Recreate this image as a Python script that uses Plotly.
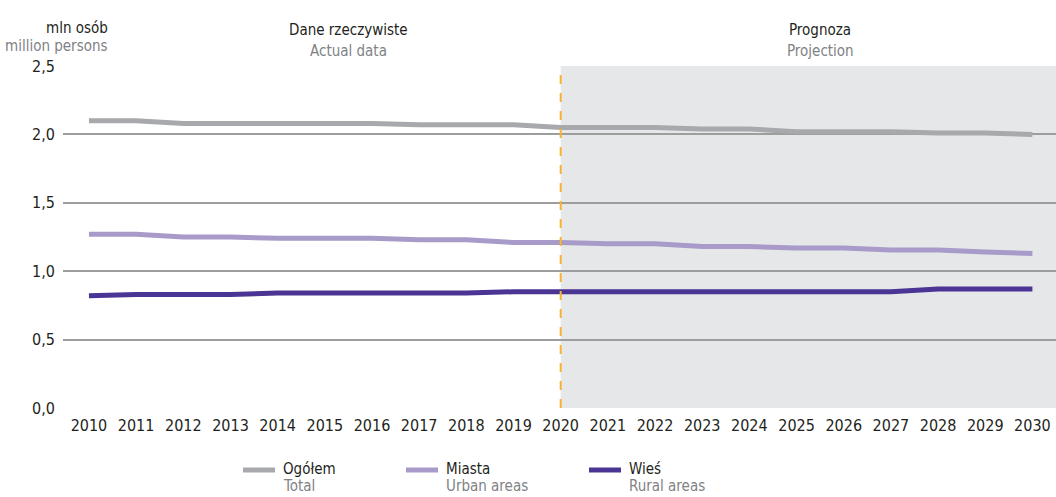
import plotly.graph_objects as go

years = list(range(2010, 2031))
total = [2.10, 2.10, 2.08, 2.08, 2.08, 2.08, 2.08, 2.07, 2.07, 2.07, 2.05,
         2.05, 2.05, 2.04, 2.04, 2.02, 2.02, 2.02, 2.01, 2.01, 2.00]
urban = [1.27, 1.27, 1.25, 1.25, 1.24, 1.24, 1.24, 1.23, 1.23, 1.21, 1.21,
         1.20, 1.20, 1.18, 1.18, 1.17, 1.17, 1.155, 1.155, 1.14, 1.13]
rural = [0.82, 0.83, 0.83, 0.83, 0.84, 0.84, 0.84, 0.84, 0.84, 0.85, 0.85,
         0.85, 0.85, 0.85, 0.85, 0.85, 0.85, 0.85, 0.87, 0.87, 0.87]
y_ticks = [0.0, 0.5, 1.0, 1.5, 2.0, 2.5]
series_pl = ["Ogółem", "Miasta", "Wieś"]
series_en = ["Total", "Urban areas", "Rural areas"]
colors = ["#a7a9ac", "#a89bca", "#4a3494"]
projection_start = 2020

FONT = "DejaVu Sans Condensed, Roboto, sans-serif"
DARK = "#231f20"
GREY = "#808285"
FS = 16
FA = 15

fig = go.Figure()
for vals, name, col in zip([total, urban, rural], series_pl, colors):
    fig.add_trace(go.Scatter(x=years, y=vals, mode="lines", name=name,
                             line=dict(color=col, width=5), showlegend=False,
                             hoverinfo="x+y"))

# projection shading and divider
fig.add_shape(type="rect", xref="x", yref="y", x0=projection_start, x1=2030.5,
              y0=0, y1=2.5, fillcolor="#e6e7e8", line=dict(width=0), layer="below")
fig.add_shape(type="line", xref="x", yref="y", x0=projection_start, x1=projection_start,
              y0=0, y1=2.5, line=dict(color="#f7b334", width=2, dash="dash"))

# plot area geometry (pixels) for paper-coordinate conversion
L, R, T, B = 63, 1056, 66, 408
def px(p):
    return (p - L) / (R - L)
def py(q):
    return (B - q) / (B - T)

# headers
ann = [
    ("mln osób", 110, 28, DARK, "right"),
    ("million persons", 110, 46, GREY, "right"),
    ("Dane rzeczywiste", 348, 30, DARK, "center"),
    ("Actual data", 348, 51, GREY, "center"),
    ("Prognoza", 820, 30, DARK, "center"),
    ("Projection", 820, 51, GREY, "center"),
]
for text, x, y, col, al in ann:
    fig.add_annotation(text=text, xref="paper", yref="paper", x=px(x), y=py(y),
                       xanchor=al, yanchor="middle", showarrow=False,
                       font=dict(family=FONT, size=FA, color=col))

# legend
leg_x = [243, 406, 589]
for lx, pl, en, col in zip(leg_x, series_pl, series_en, colors):
    fig.add_shape(type="line", xref="paper", yref="paper", x0=px(lx), x1=px(lx + 32),
                  y0=py(470), y1=py(470), line=dict(color=col, width=5))
    fig.add_annotation(text=pl, xref="paper", yref="paper", x=px(lx + 38), y=py(469),
                       xanchor="left", yanchor="middle", showarrow=False,
                       font=dict(family=FONT, size=FA, color=DARK))
    fig.add_annotation(text=en, xref="paper", yref="paper", x=px(lx + 38), y=py(486),
                       xanchor="left", yanchor="middle", showarrow=False,
                       font=dict(family=FONT, size=FA, color=GREY))

fig.update_layout(
    width=1056, height=497,
    margin=dict(l=L, r=1056 - R, t=T, b=497 - B),
    paper_bgcolor="white", plot_bgcolor="white",
    separators=", ",
    font=dict(family=FONT, size=FS, color=DARK),
    xaxis=dict(range=[2009.45, 2030.5], tickvals=years, ticktext=[str(y) for y in years],
               showgrid=False, zeroline=False, showline=False, ticks="",
               tickfont=dict(family=FONT, size=FS, color=DARK), ticklabelstandoff=6),
    yaxis=dict(range=[0, 2.5], tickvals=y_ticks, tickformat=".1f",
               showgrid=True, gridcolor="#9d9d9d", gridwidth=1.5,
               zeroline=False, showline=False, ticks="",
               tickfont=dict(family=FONT, size=FS, color=DARK), ticklabelstandoff=7),
)

fig.write_html("out.html", config={"displayModeBar": False},
               post_script="document.body.style.margin='0';document.body.style.overflow='hidden';")
